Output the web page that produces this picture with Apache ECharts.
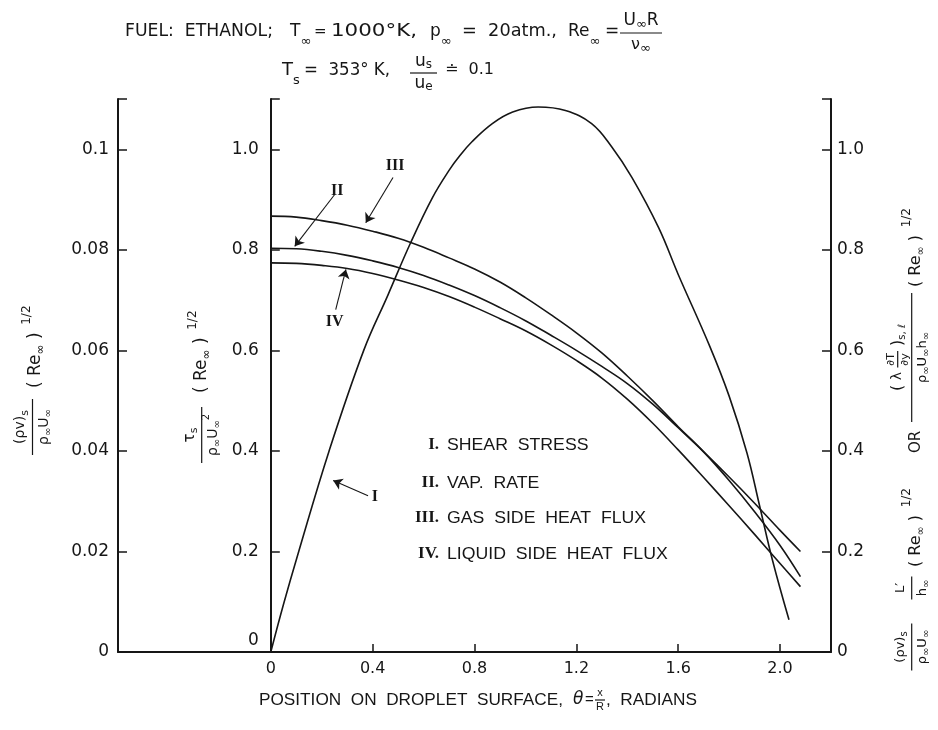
<!DOCTYPE html>
<html>
<head>
<meta charset="utf-8">
<script src="https://cdn.jsdelivr.net/npm/echarts@6/dist/echarts.min.js"></script>
<style>
  html, body { margin: 0; padding: 0; background: #fff; }
  #chart { width: 938px; height: 730px; }
</style>
</head>
<body>
<div id="chart"></div>
<script>
const INK = '#161616';
const SANS = '"DejaVu Sans", sans-serif';
const LSANS = '"Liberation Sans", sans-serif';
const SERIF = '"Liberation Serif", serif';

// axes
const xTicks = [0, 0.4, 0.8, 1.2, 1.6, 2.0];
const leftTicks = [0, 0.02, 0.04, 0.06, 0.08, 0.1];
const innerTicks = [0, 0.2, 0.4, 0.6, 0.8, 1.0];
const rightTicks = [0, 0.2, 0.4, 0.6, 0.8, 1.0];

// I. shear stress
const shearTheta = [0, 0.05, 0.108, 0.229, 0.365, 0.46, 0.55, 0.635, 0.70, 0.742, 0.79, 0.87, 0.95, 1.05,
  1.157, 1.26, 1.34, 1.418, 1.523, 1.60, 1.724, 1.80, 1.87, 1.92, 1.97, 2.035];
const shearStress = [0, 0.095, 0.197, 0.40, 0.60, 0.71, 0.815, 0.904, 0.958, 0.987, 1.015, 1.051, 1.074, 1.084,
  1.077, 1.051, 1.004, 0.944, 0.844, 0.751, 0.608, 0.509, 0.396, 0.29, 0.183, 0.064];

// II, III, IV
const heatTheta = [0, 0.1, 0.2, 0.3, 0.4, 0.5, 0.6, 0.7, 0.8, 0.9, 1.0, 1.1, 1.2, 1.3, 1.4, 1.5, 1.6, 1.7, 1.8, 1.9, 2.0, 2.08];
const vapRate = [0.803, 0.802, 0.797, 0.789, 0.778, 0.765, 0.749, 0.730, 0.709, 0.685, 0.659, 0.630, 0.600, 0.568,
  0.534, 0.493, 0.446, 0.398, 0.348, 0.296, 0.242, 0.200];
const gasHeatFlux = [0.867, 0.865, 0.858, 0.849, 0.837, 0.823, 0.805, 0.784, 0.762, 0.736, 0.705, 0.671, 0.635, 0.595,
  0.549, 0.500, 0.448, 0.398, 0.341, 0.279, 0.212, 0.150];
const liquidHeatFlux = [0.774, 0.773, 0.769, 0.763, 0.753, 0.740, 0.725, 0.707, 0.686, 0.663, 0.639, 0.611, 0.580, 0.545,
  0.503, 0.455, 0.402, 0.347, 0.291, 0.234, 0.176, 0.130];

const curveNames = ['I', 'II', 'III', 'IV'];
const legendText = ['SHEAR  STRESS', 'VAP.  RATE', 'GAS  SIDE  HEAT  FLUX', 'LIQUID  SIDE  HEAT  FLUX'];
// pointer arrows, tail -> head, in (theta, value)
const arrowTail = [[0.382, 0.311], [0.251, 0.910], [0.480, 0.944], [0.255, 0.681]];
const arrowHead = [[0.245, 0.341], [0.094, 0.807], [0.373, 0.854], [0.295, 0.761]];

// --- little text layout helpers for the lettering ---
const ctx = document.createElement('canvas').getContext('2d');
function fontOf(r) { return (r[3] || 'normal') + ' ' + r[1] + 'px ' + (r[4] || SANS); }
function tw(s, f) { ctx.font = f; return ctx.measureText(s).width; }
function runW(list) { let w = 0; list.forEach(function (r) { w += tw(r[0], fontOf(r)); }); return w; }
// r = [text, size, dy, style, family]; sx stretches the lettering sideways
function put(out, list, x, y, sx) {
  sx = sx || 1;
  list.forEach(function (r) {
    const f = fontOf(r);
    out.push({
      type: 'text', x: x, y: y + (r[2] || 0), scaleX: sx, silent: true,
      style: { text: r[0], font: f, fill: INK, align: 'left', verticalAlign: 'middle', textAlign: 'left', textVerticalAlign: 'middle' }
    });
    x += tw(r[0], f) * sx;
  });
  return x;
}
function fit(out, list, x, y, w) { return put(out, list, x, y, w / runW(list)); }
function frac(out, num, den, cx, y, gap, len) {
  const wn = runW(num), wd = runW(den);
  const L = len || Math.max(wn, wd) + 4;
  put(out, num, cx - wn / 2, y - gap);
  put(out, den, cx - wd / 2, y + gap);
  out.push({ type: 'line', silent: true, shape: { x1: cx - L / 2, y1: y, x2: cx + L / 2, y2: y }, style: { stroke: INK, lineWidth: 1.2 } });
  return cx + L / 2;
}
function reSeq(s) {
  return [['(', s], [' Re', s], ['\u221e', Math.round(s * 0.7), 5], [' )', s], ['  1/2', Math.round(s * 0.72), -9]];
}
const inf = function (s, dy) { return ['\u221e', s, dy]; };

const graphic = [];

// title lines
let t = [];
fit(t, [['FUEL:  ETHANOL;', 17]], 125, 32, 148);
put(t, [['T', 17], inf(13, 10)], 290, 32);
put(t, [['=', 15]], 314, 32);
fit(t, [['1000\u00b0K,', 17]], 331, 32, 86);
put(t, [['p', 17], inf(13, 10)], 430, 32);
fit(t, [['=  20atm.,', 17]], 462, 32, 95);
put(t, [['Re', 17], inf(13, 10)], 568, 32);
put(t, [['=', 17]], 605, 32);
frac(t, [['U', 17], inf(13, 4), ['R', 17]], [['\u03bd', 16], inf(13, 4)], 641, 33, 12, 42);
put(t, [['T', 18], ['s', 13, 11]], 282, 70);
fit(t, [['=  353\u00b0 K,', 18]], 304, 70, 86);
frac(t, [['u', 17], ['s', 12, 3]], [['u', 17], ['e', 12, 3]], 423.5, 73, 11, 27);
put(t, [['\u2250  0.1', 16]], 445, 70);
// x axis title
fit(t, [['POSITION  ON  DROPLET  SURFACE,', 17, 0, 'normal', LSANS]], 259, 700, 304);
put(t, [['\u03b8', 17, 0, 'italic']], 573, 700);
put(t, [['=', 15, 0, 'normal', LSANS]], 585, 700);
frac(t, [['x', 11, 0, 'normal', LSANS]], [['R', 11, 0, 'normal', LSANS]], 600, 700, 7, 10);
fit(t, [[',  RADIANS', 17, 0, 'normal', LSANS]], 606, 700, 91);
graphic.push.apply(graphic, t);

// legend block
legendText.forEach(function (s, i) {
  const y = [445, 483, 518, 554][i];
  graphic.push({ type: 'text', x: 439, y: y, silent: true,
    style: { text: curveNames[i] + '.', font: 'bold 17px ' + SERIF, fill: INK, align: 'right', verticalAlign: 'middle', textAlign: 'right', textVerticalAlign: 'middle' } });
  put(graphic, [[s, 17, 0, 'normal', LSANS]], 447, y, 1.04);
});

// rotated axis titles
let g = [];
frac(g, [['(\u03c1v)', 14], ['s', 11, 5]], [['\u03c1', 14], inf(10, 4), ['U', 14], inf(10, 4)], 28, 0, 12, 56);
put(g, reSeq(17), 67, 3);
graphic.push({ type: 'group', x: 32.5, y: 455, rotation: Math.PI / 2, children: g });

g = [];
frac(g, [['\u03c4', 15], ['s', 11, 4]], [['\u03c1', 14], inf(10, 4), ['U', 14], inf(10, 4), ['2', 10, -7]], 28, 0, 12, 56);
put(g, reSeq(17), 70, 0);
graphic.push({ type: 'group', x: 201.7, y: 463, rotation: Math.PI / 2, children: g });

g = [];
frac(g, [['(\u03c1v)', 13], ['s', 10, 4]], [['\u03c1', 13], inf(10, 4), ['U', 13], inf(10, 4)], 36, 0, 11, 47);
frac(g, [['L\u2032', 13]], [['h', 13], inf(10, 4)], 95, 0, 11, 23);
put(g, reSeq(16), 116, 4);
put(g, [['OR', 15]], 230, 4);
// (λ ∂T/∂y)s,ℓ over ρ∞U∞h∞
const numA = [['(', 16], [' \u03bb ', 14]], numB = [[' )', 16], ['s, \u2113', 10, 5]];
const innerW = runW([['\u2202T', 11]]) + 4;
const numW = runW(numA) + innerW + runW(numB);
let nx = put(g, numA, 325.5 - numW / 2, -14);
nx = frac(g, [['\u2202T', 11]], [['\u2202y', 11]], nx + innerW / 2, -14, 7);
put(g, numB, nx, -14);
const denC = [['\u03c1', 13], inf(10, 4), ['U', 13], inf(10, 4), ['h', 13], inf(10, 4)];
put(g, denC, 325.5 - runW(denC) / 2, 11);
g.push({ type: 'line', silent: true, shape: { x1: 261, y1: 0, x2: 390, y2: 0 }, style: { stroke: INK, lineWidth: 1.2 } });
put(g, reSeq(16), 396, 4);
graphic.push({ type: 'group', x: 911.7, y: 683, rotation: Math.PI / 2, children: g });

// --- chart ---
function pairs(xs, ys) { return xs.map(function (v, i) { return [v, ys[i]]; }); }
function curve(k, xs, ys) {
  return {
    name: curveNames[k], type: 'line', yAxisIndex: 1, data: pairs(xs, ys),
    showSymbol: false, smooth: 0.4, silent: true,
    lineStyle: { color: INK, width: 1.6 },
    markLine: {
      silent: true, symbol: ['none', 'arrow'], symbolSize: 9, animation: false,
      lineStyle: { color: INK, width: 1.1, type: 'solid' },
      label: { show: true, position: 'start', distance: 4, formatter: curveNames[k], color: INK,
        fontFamily: SERIF, fontWeight: 'bold', fontSize: 16 },
      emphasis: { disabled: true },
      data: [[{ coord: arrowTail[k] }, { coord: arrowHead[k] }]]
    }
  };
}
function yAxis(pos, offset, max, ticks, labels, fmt, margin) {
  return {
    type: 'value', position: pos, offset: offset, min: 0, max: max,
    axisLine: { show: true, onZero: false, lineStyle: { color: INK, width: 2 } },
    axisTick: { show: true, inside: true, length: 9, customValues: ticks, lineStyle: { color: INK, width: 1.5 } },
    axisLabel: { customValues: labels, formatter: fmt, margin: margin, color: INK, fontSize: 17, fontFamily: SANS,
      rich: { z: { fontSize: 17, fontFamily: SANS, color: INK, padding: [0, 0, 22, 0] } } },
    splitLine: { show: false }
  };
}
const fmt1 = function (v) { return v === 0 ? '0' : v.toFixed(1); };

const chart = echarts.init(document.getElementById('chart'));
chart.setOption({
  animation: false,
  backgroundColor: '#fff',
  grid: { left: 118, right: 107, top: 99, bottom: 78, outerBoundsMode: 'none' },
  xAxis: {
    type: 'value', min: -0.6, max: 2.2,
    axisLine: { onZero: false, lineStyle: { color: INK, width: 2 } },
    axisTick: { inside: true, length: 8, customValues: xTicks, lineStyle: { color: INK, width: 1.5 } },
    axisLabel: { customValues: xTicks, formatter: fmt1, margin: 9, color: INK, fontSize: 16, fontFamily: SANS },
    splitLine: { show: false }
  },
  yAxis: [
    yAxis('left', 0, 0.11, leftTicks.concat([0.11]), leftTicks,
      function (v) { return v === 0 ? '0' : String(+v.toFixed(2)); }, 9),
    yAxis('left', -152.8, 1.1, innerTicks.concat([1.1]), innerTicks,
      function (v) { return v === 0 ? '{z|0}' : v.toFixed(1); }, 12),
    yAxis('right', 0, 1.1, rightTicks.concat([1.1]), rightTicks, fmt1, 6)
  ],
  series: [
    curve(0, shearTheta, shearStress),
    curve(1, heatTheta, vapRate),
    curve(2, heatTheta, gasHeatFlux),
    curve(3, heatTheta, liquidHeatFlux)
  ],
  graphic: graphic
});
</script>
</body>
</html>
